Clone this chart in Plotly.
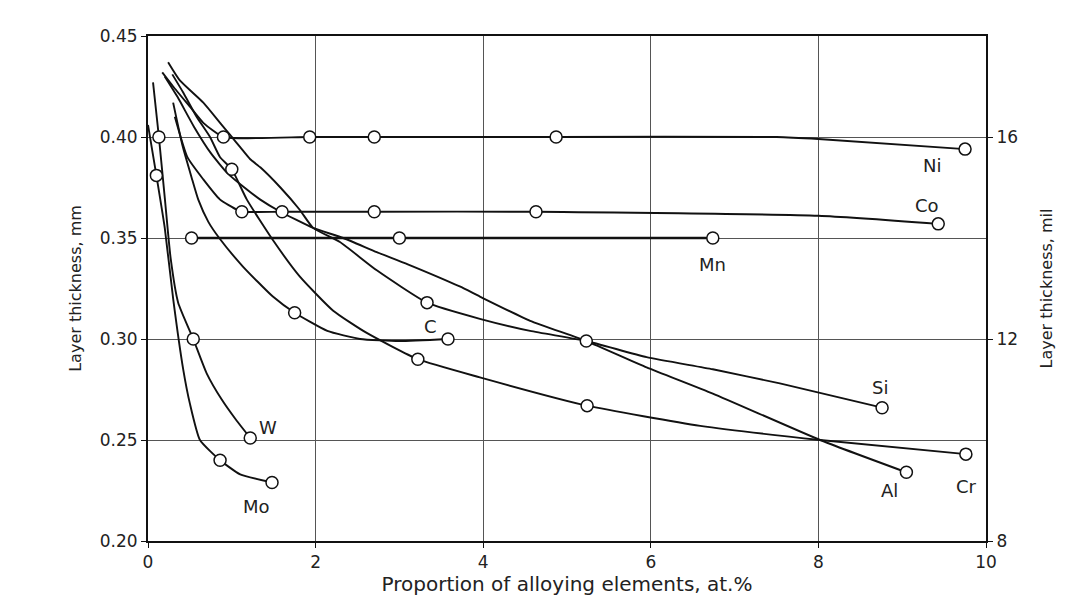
import plotly.graph_objects as go

# ---------------- data ----------------
# Ni
ni_x = [0.17, 0.30, 0.50, 0.66, 0.90, 1.93, 2.70, 4.87, 7.5, 8.0, 9.75]
ni_y = [0.432, 0.425, 0.415, 0.407, 0.400, 0.400, 0.400, 0.400, 0.400, 0.399, 0.394]
ni_mx = [0.90, 1.93, 2.70, 4.87, 9.75]
ni_my = [0.400, 0.400, 0.400, 0.400, 0.394]

# Co
co_x = [0.32, 0.47, 0.66, 0.86, 1.06, 1.12, 1.60, 2.70, 4.63, 8.0, 9.43]
co_y = [0.410, 0.390, 0.379, 0.369, 0.364, 0.363, 0.363, 0.363, 0.363, 0.361, 0.357]
co_mx = [1.12, 1.60, 2.70, 4.63, 9.43]
co_my = [0.363, 0.363, 0.363, 0.363, 0.357]

# Mn
mn_x = [0.52, 3.00, 6.74]
mn_y = [0.350, 0.350, 0.350]
mn_mx = [0.52, 3.00, 6.74]
mn_my = [0.350, 0.350, 0.350]

# C
c_x = [0.30, 0.41, 0.52, 0.60, 0.72, 0.85, 1.13, 1.49, 1.75, 2.14, 2.53, 3.00, 3.58]
c_y = [0.417, 0.396, 0.380, 0.369, 0.358, 0.350, 0.336, 0.321, 0.313, 0.304, 0.300, 0.299, 0.300]
c_mx = [1.75, 3.58]
c_my = [0.313, 0.300]

# Si
si_x = [0.24, 0.38, 0.66, 0.86, 0.98, 1.10, 1.22, 1.34, 1.58, 1.81, 1.97, 2.29, 2.73,
        3.33, 3.96, 4.56, 5.23, 5.95, 6.74, 7.54, 8.76]
si_y = [0.437, 0.428, 0.417, 0.407, 0.401, 0.395, 0.389, 0.385, 0.375, 0.364, 0.355, 0.348, 0.334,
        0.318, 0.310, 0.304, 0.299, 0.291, 0.285, 0.278, 0.266]
si_mx = [3.33, 5.23, 8.76]
si_my = [0.318, 0.299, 0.266]

# Al
al_x = [0.20, 0.35, 0.55, 0.75, 0.95, 1.15, 1.34, 1.58, 1.97, 2.33, 2.73, 3.10, 3.72,
        3.96, 4.56, 5.23, 5.95, 6.74, 8.02, 9.05]
al_y = [0.430, 0.420, 0.405, 0.392, 0.382, 0.375, 0.369, 0.363, 0.355, 0.350, 0.343, 0.337, 0.326,
        0.321, 0.309, 0.299, 0.286, 0.273, 0.250, 0.234]
al_mx = [9.05]
al_my = [0.234]

# Cr
cr_x = [0.29, 0.42, 0.58, 0.74, 0.86, 1.00, 1.18, 1.49, 1.81, 2.21, 2.61, 3.22, 3.96,
        5.24, 6.59, 8.02, 9.76]
cr_y = [0.431, 0.422, 0.410, 0.400, 0.390, 0.384, 0.369, 0.349, 0.331, 0.314, 0.303, 0.290, 0.281,
        0.267, 0.257, 0.250, 0.243]
cr_mx = [1.00, 3.22, 5.24, 9.76]
cr_my = [0.384, 0.290, 0.267, 0.243]

# W
w_x = [0.06, 0.13, 0.20, 0.27, 0.36, 0.54, 0.70, 0.88, 1.05, 1.22]
w_y = [0.427, 0.400, 0.370, 0.340, 0.318, 0.300, 0.283, 0.270, 0.260, 0.251]
w_mx = [0.13, 0.54, 1.22]
w_my = [0.400, 0.300, 0.251]

# Mo
mo_x = [0.00, 0.10, 0.20, 0.30, 0.42, 0.50, 0.62, 0.86, 1.10, 1.48]
mo_y = [0.406, 0.381, 0.355, 0.320, 0.285, 0.268, 0.250, 0.240, 0.233, 0.229]
mo_mx = [0.10, 0.86, 1.48]
mo_my = [0.381, 0.240, 0.229]

# labels
lab_text = ["Ni", "Co", "Mn", "C", "Si", "W", "Mo", "Al", "Cr"]
lab_x = [9.36, 9.30, 6.74, 3.37, 8.74, 1.43, 1.30, 8.85, 9.77]
lab_y = [0.386, 0.366, 0.337, 0.306, 0.276, 0.256, 0.217, 0.225, 0.227]

x_ticks = [0, 2, 4, 6, 8, 10]
y_ticks = [0.20, 0.25, 0.30, 0.35, 0.40, 0.45]
y_ticklabels = ["0.20", "0.25", "0.30", "0.35", "0.40", "0.45"]
mil_ticks = [8, 12, 16]

# ---------------- figure ----------------
FONT = "DejaVu Sans"
INK = "#111111"
fig = go.Figure()

series = [
    (ni_x, ni_y, ni_mx, ni_my),
    (co_x, co_y, co_mx, co_my),
    (mn_x, mn_y, mn_mx, mn_my),
    (c_x, c_y, c_mx, c_my),
    (si_x, si_y, si_mx, si_my),
    (al_x, al_y, al_mx, al_my),
    (cr_x, cr_y, cr_mx, cr_my),
    (w_x, w_y, w_mx, w_my),
    (mo_x, mo_y, mo_mx, mo_my),
]

for sx, sy, mx, my in series:
    fig.add_trace(go.Scatter(x=sx, y=sy, mode="lines",
                             line=dict(color=INK, width=1.9, shape="spline", smoothing=0.5),
                             showlegend=False, hoverinfo="skip"))
# heavier horizontal Mn run
fig.add_trace(go.Scatter(x=mn_x, y=mn_y, mode="lines",
                         line=dict(color=INK, width=2.6),
                         showlegend=False, hoverinfo="skip"))

for sx, sy, mx, my in series:
    fig.add_trace(go.Scatter(x=mx, y=my, mode="markers",
                             marker=dict(symbol="circle", size=12, color="white",
                                         line=dict(color=INK, width=1.5)),
                             showlegend=False, hoverinfo="skip"))

# invisible trace to activate secondary axis
fig.add_trace(go.Scatter(x=[0], y=[8], yaxis="y2", mode="markers",
                         marker=dict(opacity=0), showlegend=False, hoverinfo="skip"))

for t, x, y in zip(lab_text, lab_x, lab_y):
    fig.add_annotation(x=x, y=y, text=t, showarrow=False,
                       font=dict(family=FONT, size=18, color="#222222"))

fig.update_layout(
    width=1086, height=601,
    margin=dict(l=148, r=100, t=36, b=60),
    paper_bgcolor="white", plot_bgcolor="white",
    font=dict(family=FONT, size=17, color="#222222"),
    xaxis=dict(range=[0, 10], tickvals=x_ticks, showgrid=True,
               gridcolor="#555555", gridwidth=1, zeroline=False,
               showline=True, linecolor=INK, linewidth=2, mirror=True,
               ticks="outside", ticklen=5, tickcolor=INK,
               tickfont=dict(family=FONT, size=17),
               title=dict(text="Proportion of alloying elements, at.%",
                          font=dict(family=FONT, size=20), standoff=4),
               automargin=False),
    yaxis=dict(range=[0.20, 0.45], tickvals=y_ticks, ticktext=y_ticklabels,
               showgrid=True, gridcolor="#555555", gridwidth=1, zeroline=False,
               showline=True, linecolor=INK, linewidth=2, mirror=True,
               ticks="outside", ticklen=5, tickcolor=INK,
               tickfont=dict(family=FONT, size=17),
               title=dict(text="Layer thickness, mm",
                          font=dict(family=FONT, size=16), standoff=14),
               automargin=False),
    yaxis2=dict(range=[8, 18], tickvals=mil_ticks, overlaying="y", side="right",
                showgrid=False, zeroline=False, showline=True,
                linecolor=INK, linewidth=2,
                ticks="outside", ticklen=5, tickcolor=INK,
                tickfont=dict(family=FONT, size=17),
                title=dict(text="Layer thickness, mil",
                           font=dict(family=FONT, size=16), standoff=24),
                automargin=False),
)

fig.write_html("out.html")
